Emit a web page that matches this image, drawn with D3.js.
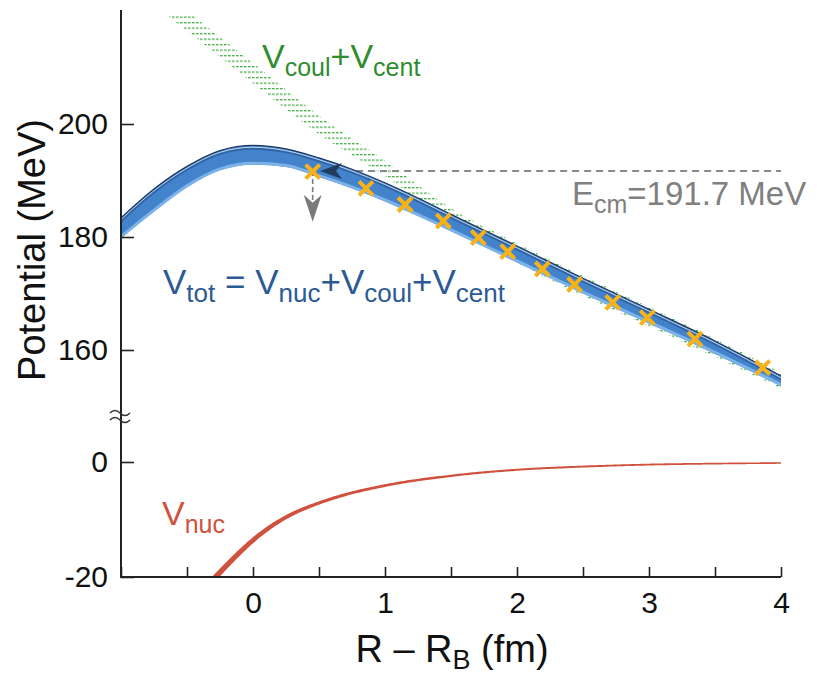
<!doctype html>
<html>
<head>
<meta charset="utf-8">
<script src="https://d3js.org/d3.v7.min.js"></script>
<style>
  body { margin: 0; background: #fff; }
  text { font-family: "Liberation Sans", Arial, Helvetica, sans-serif; white-space: pre; }
</style>
</head>
<body>
<svg width="829" height="679"></svg>
<script>
  // V_tot band (family of curves)
  const bandR      = [-1, -0.75, -0.5, -0.25, 0, 0.25, 0.5, 0.75, 1, 1.25, 1.5, 2, 2.5, 3, 3.5, 4];
  const vTotTop    = [183.4, 188.5, 192.5, 195.3, 196.2, 195.6, 194.0, 192.0, 189.6, 186.9, 184.0, 178.4, 172.7, 167.2, 161.6, 155.4];
  const vTotBottom = [179.8, 184.5, 188.8, 191.8, 192.8, 192.4, 190.6, 188.6, 186.3, 183.7, 181.0, 175.5, 170.0, 164.7, 159.3, 153.6];

  // V_coul + V_cent band
  const coulR         = [-0.7, -0.5, 0, 0.5, 1, 1.5, 2, 2.5, 3, 3.5, 4];
  const vCoulCentHigh = [223.7, 220.0, 210.8, 201.5, 193.5, 185.1, 178.9, 173.1, 167.6, 162.0, 156.0];
  const vCoulCentLow  = [220.2, 216.5, 207.2, 198.2, 190.8, 182.3, 175.5, 169.6, 164.2, 158.8, 153.2];

  // V_nuc
  const nucR = [-0.3, -0.2, -0.1, 0, 0.15, 0.3, 0.45, 0.65, 1, 1.5, 2, 2.5, 3, 3.5, 4];
  const vNuc = [-20.4, -18.0, -15.7, -13.6, -11.0, -9.0, -7.55, -6.0, -4.1, -2.4, -1.35, -0.8, -0.45, -0.28, -0.18];

  // crosses
  const crossR = [0.452, 0.856, 1.152, 1.442, 1.707, 1.930, 2.192, 2.436, 2.725, 2.987, 3.348, 3.861];
  const crossV = [191.56, 188.62, 185.75, 182.83, 179.88, 177.40, 174.34, 171.59, 168.44, 165.72, 161.95, 156.87];

  const eCm = 191.7;
  const eCmFrom = 0.69;
  const dropTo = 182.7;

  const xTicks = [-1, -0.5, 0, 0.5, 1, 1.5, 2, 2.5, 3, 3.5, 4];
  const xTickLabels = ["", "", "0", "", "1", "", "2", "", "3", "", "4"];
  const yTicksUpper = [160, 180, 200];
  const yTicksLower = [-20, 0];

  const svg = d3.select("svg");
  const x = d3.scaleLinear().domain([-1, 4]).range([121, 781]);
  const yUp = d3.scaleLinear().domain([150, 220]).range([406.5, 11]);
  const yLo = d3.scaleLinear().domain([-20, 8]).range([577, 416]);

  const defs = svg.append("defs");
  defs.append("clipPath").attr("id", "clipUp")
    .append("rect").attr("x", 121).attr("y", 13).attr("width", 660).attr("height", 400);
  defs.append("clipPath").attr("id", "clipLo")
    .append("rect").attr("x", 121).attr("y", 420).attr("width", 680).attr("height", 157);
  const pat = defs.append("pattern").attr("id", "dots")
    .attr("patternUnits", "userSpaceOnUse").attr("width", 4).attr("height", 5.5);
  pat.append("rect").attr("x", 0).attr("y", 0).attr("width", 2.6).attr("height", 1.3).attr("fill", "#45b245");

  // green band
  const coulArea = d3.area()
    .x((d, i) => x(coulR[i]))
    .y0((d, i) => yUp(vCoulCentLow[i]))
    .y1(d => yUp(d))
    .curve(d3.curveMonotoneX);
  svg.append("path")
    .attr("clip-path", "url(#clipUp)")
    .attr("d", coulArea(vCoulCentHigh))
    .attr("fill", "url(#dots)");

  // E_cm dashed line
  svg.append("line")
    .attr("x1", x(eCmFrom)).attr("x2", x(4))
    .attr("y1", yUp(eCm)).attr("y2", yUp(eCm))
    .attr("stroke", "#8a8a8a").attr("stroke-width", 2).attr("stroke-dasharray", "7,5");

  // blue band
  const g = svg.append("g").attr("clip-path", "url(#clipUp)");
  const totArea = d3.area()
    .x((d, i) => x(bandR[i]))
    .y0((d, i) => yUp(vTotBottom[i]))
    .y1(d => yUp(d))
    .curve(d3.curveMonotoneX);
  const bandLine = d3.line().x((d, i) => x(bandR[i])).y(d => yUp(d)).curve(d3.curveMonotoneX);
  g.append("path").attr("d", totArea(vTotTop)).attr("fill", "#4283cc");
  g.append("path").attr("d", bandLine(vTotBottom)).attr("fill", "none")
    .attr("stroke", "#7cb2e8").attr("stroke-width", 3).attr("transform", "translate(0,-1.5)");
  g.append("path").attr("d", bandLine(vTotTop)).attr("fill", "none")
    .attr("stroke", "#2f64a6").attr("stroke-width", 2.5).attr("transform", "translate(0,3)");
  g.append("path").attr("d", bandLine(vTotTop)).attr("fill", "none")
    .attr("stroke", "#e3ecf6").attr("stroke-width", 0.8).attr("transform", "translate(0,1.8)");
  g.append("path").attr("d", bandLine(vTotTop)).attr("fill", "none")
    .attr("stroke", "#1d3a63").attr("stroke-width", 1.2);

  // arrows
  const ax = x(0.508), ay = yUp(eCm);
  svg.append("path")
    .attr("d", `M${ax},${ay} L${ax + 22},${ay - 8} L${ax + 16},${ay} L${ax + 22},${ay + 8} Z`)
    .attr("fill", "#1e3552").attr("opacity", 0.9);
  const vx = x(crossR[0]), vy0 = yUp(eCm), vy1 = yUp(dropTo);
  svg.append("line").attr("x1", vx).attr("x2", vx).attr("y1", vy0).attr("y2", vy1 - 20)
    .attr("stroke", "#7a7a7a").attr("stroke-width", 1.6).attr("stroke-dasharray", "5,3");
  svg.append("path")
    .attr("d", `M${vx},${vy1} L${vx - 9},${vy1 - 27} L${vx},${vy1 - 19} L${vx + 9},${vy1 - 27} Z`)
    .attr("fill", "#7a7a7a");

  // crosses
  svg.append("g").selectAll("path").data(crossR).join("path")
    .attr("d", (d, i) => {
      const cx = x(d), cy = yUp(crossV[i]), s = 7;
      return `M${cx - s},${cy - s}L${cx + s},${cy + s}M${cx - s},${cy + s}L${cx + s},${cy - s}`;
    })
    .attr("stroke", "#f7b21a").attr("stroke-width", 4).attr("fill", "none");

  // V_nuc, drawn with tapering width
  const nucLine = d3.line().x((d, i) => x(nucR[i])).y(d => yLo(d)).curve(d3.curveMonotoneX);
  const tmp = svg.append("path").attr("d", nucLine(vNuc)).attr("fill", "none");
  const len = tmp.node().getTotalLength();
  const pts = d3.range(0, 301).map(k => tmp.node().getPointAtLength(len * k / 300));
  tmp.remove();
  const wScale = d3.scaleLinear().domain([-0.3, 0.5, 1.5, 4]).range([5.5, 3.2, 2.2, 1.6]).clamp(true);
  const left = [], right = [];
  pts.forEach((p, k) => {
    const a = pts[Math.max(0, k - 2)], b = pts[Math.min(pts.length - 1, k + 2)];
    const dx = b.x - a.x, dy = b.y - a.y, n = Math.hypot(dx, dy) || 1;
    const w = wScale(x.invert(p.x)) / 2;
    left.push([p.x - dy / n * w, p.y + dx / n * w]);
    right.push([p.x + dy / n * w, p.y - dx / n * w]);
  });
  svg.append("path")
    .attr("clip-path", "url(#clipLo)")
    .attr("d", "M" + left.map(p => p.join(",")).join("L") + "L" + right.reverse().map(p => p.join(",")).join("L") + "Z")
    .attr("fill", "#d0513d");

  // axes
  const styleAxis = sel => {
    sel.attr("font-size", null).attr("font-family", null);
    sel.select(".domain").remove();
    sel.selectAll(".tick line").attr("stroke", "#222").attr("stroke-width", 1.6);
    sel.selectAll(".tick text").attr("fill", "#111").attr("font-size", 30);
  };
  svg.append("g").attr("transform", "translate(0,577)")
    .call(d3.axisBottom(x).tickValues(xTicks).tickSize(-10).tickPadding(15).tickFormat((d, i) => xTickLabels[i]))
    .call(styleAxis);
  svg.append("g").attr("transform", "translate(121,0)")
    .call(d3.axisLeft(yUp).tickValues(yTicksUpper).tickSize(-13).tickPadding(13))
    .call(styleAxis);
  svg.append("g").attr("transform", "translate(121,0)")
    .call(d3.axisLeft(yLo).tickValues(yTicksLower).tickSize(-13).tickPadding(13).tickFormat(d => d < 0 ? "-" + Math.abs(d) : d))
    .call(styleAxis);

  svg.append("path").attr("d", "M121,10V577H781").attr("fill", "none")
    .attr("stroke", "#222").attr("stroke-width", 2);

  // axis break
  [-4, 3].forEach(o => {
    svg.append("path")
      .attr("d", `M110,${417 + o} q5,-5 10,0 t10,0`)
      .attr("fill", "none").attr("stroke", "#333").attr("stroke-width", 1.6);
  });

  // labels
  const label = (tx, ty, parts, color, big, small, shift) => {
    const t = svg.append("text").attr("x", tx).attr("y", ty).attr("fill", color).attr("font-size", big);
    let down = false;
    parts.forEach(([s, sub]) => {
      const sp = t.append("tspan").text(s);
      if (sub && !down) { sp.attr("font-size", small).attr("dy", shift); down = true; }
      else if (!sub && down) { sp.attr("dy", -shift); down = false; }
      else if (sub) sp.attr("font-size", small);
    });
    return t;
  };
  label(262, 68, [["V"], ["coul", 1], ["+V"], ["cent", 1]], "#2f8c2f", 34, 25, 8);
  label(163, 294, [["V"], ["tot", 1], [" = V"], ["nuc", 1], ["+V"], ["coul", 1], ["+V"], ["cent", 1]], "#2c5a94", 35, 26, 8);
  label(572, 205, [["E"], ["cm", 1], ["=191.7 MeV"]], "#808080", 33, 25, 8);
  label(162, 525, [["V"], ["nuc", 1]], "#d0513d", 34, 25, 8);

  svg.append("text").attr("transform", "translate(45,250) rotate(-90)")
    .attr("text-anchor", "middle").attr("font-size", 38).attr("fill", "#111")
    .text("Potential (MeV)");
  const xt = svg.append("text").attr("x", 452).attr("y", 662)
    .attr("text-anchor", "middle").attr("font-size", 38).attr("fill", "#111");
  xt.append("tspan").text("R – R");
  xt.append("tspan").text("B").attr("font-size", 27).attr("dy", 7);
  xt.append("tspan").text(" (fm)").attr("dy", -7);
</script>
</body>
</html>
